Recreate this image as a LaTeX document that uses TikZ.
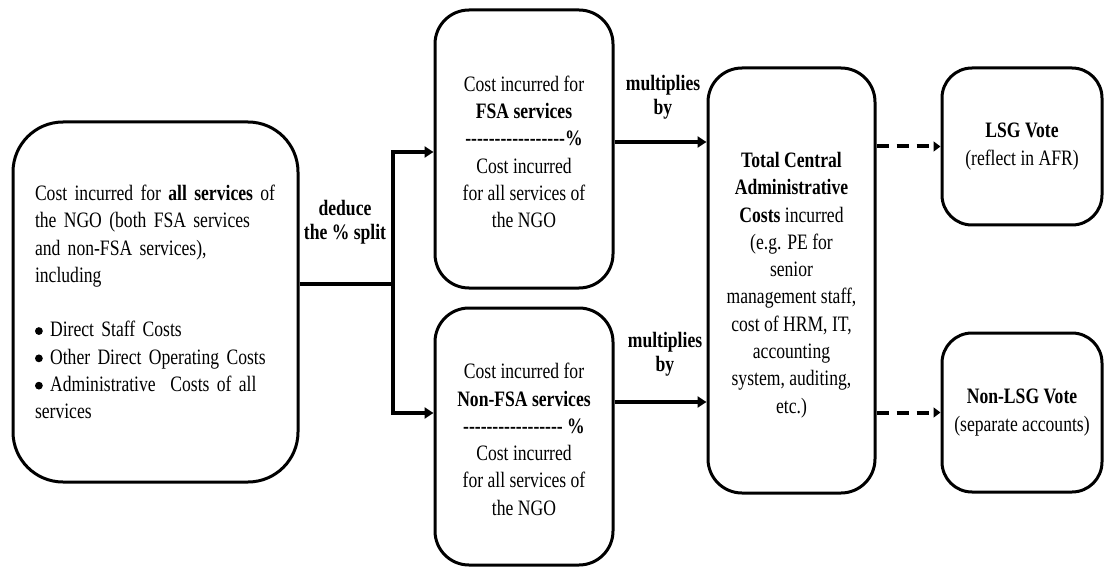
\documentclass[tikz,border=0pt]{standalone}
\usepackage{fontspec}
\setmainfont{Liberation Serif}[FakeStretch=0.8, Ligatures=TeXOff]
\usetikzlibrary{arrows.meta,calc}
\newcommand\bigbullet{\raisebox{0.09em}{\tikz\fill (0,0) circle[radius=3.9pt];}}
\begin{document}
\begin{tikzpicture}[x=1pt,y=-1pt,
  roundbox/.style={draw, line width=3pt, rounded corners=#1, inner sep=0pt,
    align=center, font=\fontsize{22}{27.3}\selectfont},
  roundbox/.default=34pt,
  steplabel/.style={align=center, inner sep=0pt, font=\fontsize{22}{23.5}\selectfont\bfseries},
  solidarrow/.style={line width=3.3pt, -{Triangle[length=9pt,width=11pt]}},
  plainline/.style={line width=3.3pt},
  dasharrow/.style={line width=4pt, dash pattern=on 12pt off 8pt, -{Triangle[length=7pt,width=10pt]}}]
\useasboundingbox (0,0) rectangle (1104,567);

% source box
\node[roundbox=50pt, minimum width=285pt, minimum height=360pt, text width=241pt, align=left]
  (all) at (155.5,302) {Cost incurred for \textbf{all services} of\\
  the NGO (both FSA services\\
  and non-FSA services),\\
  including\\[27.3pt]
  \bigbullet\ Direct Staff Costs\\
  \bigbullet\ Other Direct Operating Costs\\
  \bigbullet\ Administrative\ \ Costs of all\\
  services};

% share boxes
\node[roundbox, minimum width=178pt, minimum height=278pt] (fsa) at (524,149)
  {\\[-6pt]Cost incurred for\\ \textbf{FSA services}\\ \textbf{-----------------\%}\\
   Cost incurred\\ for all services of\\ the NGO};
\node[roundbox, minimum width=178pt, minimum height=257pt] (nonfsa) at (524,436.5)
  {\\[-6pt]Cost incurred for\\ \textbf{Non-FSA services}\\ \textbf{----------------- \%}\\
   Cost incurred\\ for all services of\\ the NGO};

% central costs box
\node[roundbox, minimum width=167pt, minimum height=425pt] (total) at (791.5,280.5)
  {\\[-3pt]\textbf{Total Central}\\ \textbf{Administrative}\\ \textbf{Costs} incurred\\
   (e.g. PE for\\ senior\\ management staff,\\ cost of HRM, IT,\\ accounting\\
   system, auditing,\\ etc.)};

% votes
\node[roundbox=30pt, minimum width=160pt, minimum height=157pt] (lsg) at (1022,146.5)
  {\textbf{LSG Vote}\\ (reflect in AFR)};
\node[roundbox=30pt, minimum width=160pt, minimum height=159pt] (nonlsg) at (1022,412.5)
  {\textbf{Non-LSG Vote}\\ (separate accounts)};

% labels
\node[steplabel] (splitlbl) at (345,222) {deduce\\ the \% split};
\node[steplabel] (multlbla) at (663,97) {multiplies\\ by};
\node[steplabel] (multlblb) at (665,354) {multiplies\\ by};

% split connectors
\coordinate (fork) at (393,284);
\draw[plainline] (all.east |- fork) -- ([xshift=1.65pt]fork);
\draw[solidarrow] ([yshift=1.65pt]fork) |- (fsa.west |- 0,152);
\draw[solidarrow] ([yshift=-1.65pt]fork) |- (nonfsa.west |- 0,413);

% multiply connectors
\draw[solidarrow] (fsa.east |- 0,142) -- (total.west |- 0,142);
\draw[solidarrow] (nonfsa.east |- 0,402) -- (total.west |- 0,402);

% vote connectors
\draw[dasharrow] (total.east |- lsg.west) -- (lsg.west);
\draw[dasharrow] (total.east |- nonlsg.west) -- (nonlsg.west);
\end{tikzpicture}
\end{document}
